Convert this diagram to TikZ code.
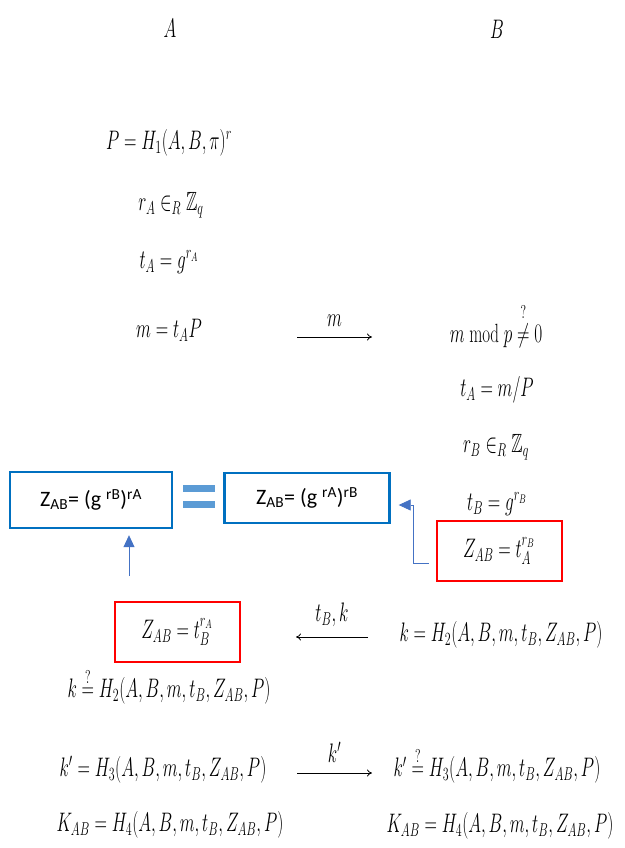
\documentclass[tikz,border=0pt]{standalone}
\usepackage{amsmath,amssymb}
\usepackage{fontspec}
\newfontfamily\calib{Carlito}
\usetikzlibrary{arrows.meta,positioning,calc}
\definecolor{boxblue}{RGB}{0,112,192}
\definecolor{eqblue}{RGB}{91,155,213}
\definecolor{arrblue}{RGB}{68,114,196}
\newcommand{\tallm}[1]{\scalebox{1}[1.55]{$#1$}}
\tikzset{every picture/.style={line width=0.75pt}}
\tikzset{
  eqn/.style={inner sep=1pt, font=\fontsize{17}{20}\selectfont},
  redbox/.style={draw=red, line width=2pt, minimum width=125pt, minimum height=60pt},
  bluebox/.style={draw=boxblue, line width=2.4pt, font=\calib\fontsize{22}{26}\selectfont},
  msg/.style={-{To[length=5pt,width=7pt]}, line width=0.8pt},
  bluearr/.style={arrblue, line width=0.8pt, -{Triangle[length=12pt,width=11pt]}}
}

\begin{document}
\begin{tikzpicture}[x=1pt, y=-1pt]
    \useasboundingbox (0,0) rectangle (624,848);

    % 两方名称
    \node[eqn] (nameA) at (170,28) {\tallm{A}};
    \node[eqn] (nameB) at (497,29) {\tallm{B}};

    % A 方计算
    \node[eqn] (hP) at (169,143) {\tallm{P = H_1(A,B,\pi)^r}};
    \node[eqn] (rA) at (171,205) {\tallm{r_A \in_R \mathbb{Z}_q}};
    \node[eqn] (tA) at (169,262) {\tallm{t_A = g^{r_A}}};
    \node[eqn] (mA) at (169,330) {\tallm{m = t_A P}};

    % 发送 m
    \coordinate (m1) at (297,337);
    \coordinate (m2) at (372,337);
    \draw[msg] (m1) -- node[eqn, above=9pt] (lm) {\tallm{m}} (m2);

    % B 方计算
    \node[eqn] (chk) at (496,325) {\tallm{m \bmod p \overset{?}{\neq} 0}};
    \node[eqn] (tAB) at (497,390) {\tallm{t_A = m/P}};
    \node[eqn] (rB) at (496,447) {\tallm{r_B \in_R \mathbb{Z}_q}};
    \node[eqn] (tB) at (497,504) {\tallm{t_B = g^{r_B}}};
    \node[redbox, eqn] (zB) at (499,551) {\tallm{Z_{AB} = t_A^{r_B}}};

    % 共享密钥相等
    \node[bluebox, minimum width=162pt, minimum height=56pt] (zab1) at (91,500)
        {Z\textsubscript{AB}= (g \textsuperscript{rB})\textsuperscript{rA}};
    \node[bluebox, minimum width=165pt, minimum height=50pt] (zab2) at (307,498)
        {Z\textsubscript{AB}= (g \textsuperscript{rA})\textsuperscript{rB}};
    \fill[eqblue] (183,485) rectangle (215,492);
    \fill[eqblue] (183,501) rectangle (215,508);

    % 蓝色箭头
    \coordinate (upA) at (129,576);
    \draw[bluearr] (upA) -- ([yshift=-6pt]upA |- zab1.south);
    \coordinate (bend) at (413,505);
    \draw[bluearr] ([xshift=-7pt,yshift=-12pt]zB.west) -| (bend) -- ([xshift=8pt,yshift=-7pt]zab2.east);

    % 发送 t_B, k
    \node[redbox, eqn] (zA) at (177,632) {\tallm{Z_{AB} = t_B^{r_A}}};
    \node[eqn] (kB) at (501,635) {\tallm{k = H_2(A,B,m,t_B,Z_{AB},P)}};
    \coordinate (k1) at (368,637);
    \coordinate (k2) at (296,637);
    \draw[msg] (k1) -- node[eqn, above=9pt] (lk) {\tallm{t_B, k}} (k2);
    \node[eqn] (kA) at (169,686) {\tallm{k \overset{?}{=} H_2(A,B,m,t_B,Z_{AB},P)}};

    % 发送 k'
    \node[eqn] (kpA) at (163,770) {\tallm{k' = H_3(A,B,m,t_B,Z_{AB},P)}};
    \coordinate (p1) at (297,773);
    \coordinate (p2) at (372,773);
    \draw[msg] (p1) -- node[eqn, above=9pt] (lkp) {\tallm{k'}} (p2);
    \node[eqn] (kpB) at (497,765) {\tallm{k' \overset{?}{=} H_3(A,B,m,t_B,Z_{AB},P)}};

    % 会话密钥
    \node[eqn] (KA) at (170,825) {\tallm{K_{AB} = H_4(A,B,m,t_B,Z_{AB},P)}};
    \node[eqn] (KB) at (500,826) {\tallm{K_{AB} = H_4(A,B,m,t_B,Z_{AB},P)}};
\end{tikzpicture}
\end{document}
